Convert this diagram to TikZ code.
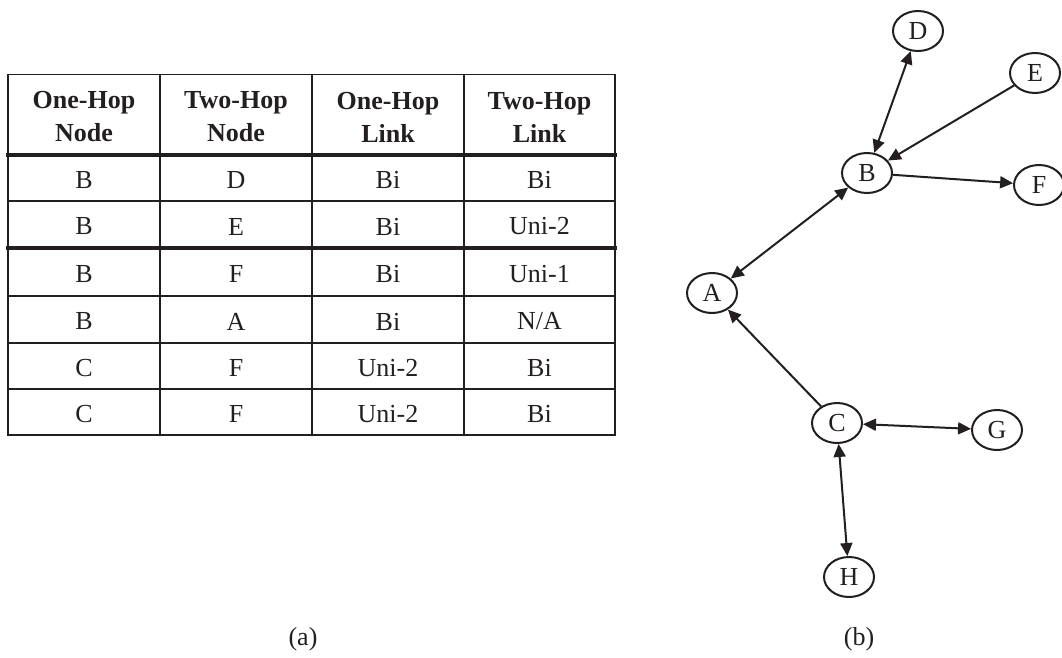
\documentclass[tikz,border=0pt]{standalone}
\usepackage{fontspec}
\setmainfont{Liberation Serif}
\usetikzlibrary{shapes.geometric, arrows.meta}
\definecolor{InkBlack}{HTML}{231F20}
\tikzset{
    thin rule/.style={line width=1.8pt, line cap=rect},
    thick rule/.style={line width=3.6pt, line cap=rect},
    head text/.style={align=center, font=\fontsize{26pt}{33pt}\selectfont\bfseries},
    cell text/.style={font=\fontsize{26pt}{33pt}\selectfont},
    hop node/.style={
        draw, ellipse, line width=2pt, inner sep=0pt,
        minimum width=50pt, minimum height=40pt,
        font=\fontsize{26pt}{33pt}\selectfont
    },
    hop link/.style={line width=2pt},
}

\begin{document}
\begin{tikzpicture}[x=1pt, y=-1pt, color=InkBlack, >={Triangle[length=13pt, width=12pt]}]

    \useasboundingbox (0, 0) rectangle (1062, 657);

    % (a) table
    \foreach \x in {8, 160, 312, 464, 615}
        \draw[thin rule] (\x, 74.5) -- (\x, 435);
    \foreach \y in {74.5, 201, 296, 343, 389, 435}
        \draw[thin rule] (8, \y) -- (615, \y);
    \foreach \y in {155, 248}
        \draw[thick rule] (8, \y) -- (615, \y);

    \node[head text] (head-1) at (84, 117) {One-Hop\\Node};
    \node[head text] (head-2) at (236, 117) {Two-Hop\\Node};
    \node[head text] (head-3) at (388, 117) {One-Hop\\Link};
    \node[head text] (head-4) at (539.5, 117) {Two-Hop\\Link};

    \foreach \y/\one/\two/\linkone/\linktwo [count=\r] in {
            180/B/D/Bi/Bi,
            226.5/B/E/Bi/Uni-2,
            274/B/F/Bi/Uni-1,
            321.5/B/A/Bi/{N/A},
            368/C/F/Uni-2/Bi,
            414/C/F/Uni-2/Bi} {
        \node[cell text] (one-\r) at (84, \y) {\one};
        \node[cell text] (two-\r) at (236, \y) {\two};
        \node[cell text] (linkone-\r) at (388, \y) {\linkone};
        \node[cell text] (linktwo-\r) at (539.5, \y) {\linktwo};
    }

    \node[cell text] (label-a) at (303, 639) {(a)};

    % (b) graph
    \node[hop node] (D) at (918, 31) {D};
    \node[hop node] (E) at (1035, 73) {E};
    \node[hop node] (B) at (867, 173) {B};
    \node[hop node] (F) at (1039, 185) {F};
    \node[hop node] (A) at (712, 293) {A};
    \node[hop node] (C) at (837, 423) {C};
    \node[hop node] (G) at (997, 430) {G};
    \node[hop node] (H) at (849, 577) {H};

    \draw[hop link, <->] (B) -- (D);
    \draw[hop link, ->] (E) -- (B);
    \draw[hop link, ->] (B) -- (F);
    \draw[hop link, <->] (A) -- (B);
    \draw[hop link, ->] (C) -- (A);
    \draw[hop link, <->] (C) -- (G);
    \draw[hop link, <->] (C) -- (H);

    \node[cell text] (label-b) at (859, 639) {(b)};

\end{tikzpicture}
\end{document}
